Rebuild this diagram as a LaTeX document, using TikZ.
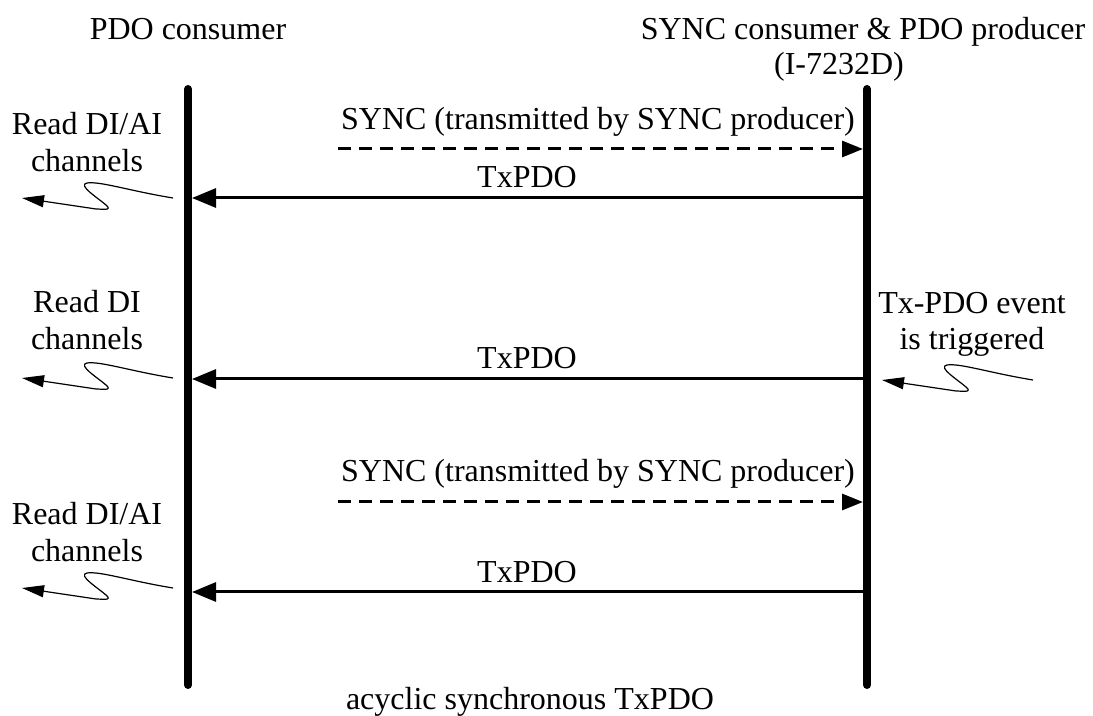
\documentclass[tikz,border=0pt]{standalone}
\usepackage{fontspec}
\setmainfont{Liberation Serif}
\usetikzlibrary{arrows.meta}
\begin{document}
\begin{tikzpicture}[x=0.5pt,y=-0.5pt,
  lbl/.style={anchor=base,inner sep=0pt,font=\fontsize{16}{19}\selectfont},
  life/.style={line width=4pt,line cap=round},
  msg/.style={line width=1.5pt,-{Triangle[length=12pt,width=9.5pt]},shorten >=2pt},
  syncmsg/.style={line width=1.5pt,dash pattern=on 6.5pt off 4pt,-{Triangle[length=10.5pt,width=8pt]},shorten >=2pt},
  wave/.style={line width=0.6pt,-{Triangle[length=11pt,width=6pt]}}]

\useasboundingbox (0,0) rectangle (1093,716);

% lifelines
\coordinate (Ltop) at (188,89);
\coordinate (Lbot) at (188,685);
\coordinate (Rtop) at (867,89);
\coordinate (Rbot) at (867,685);
\draw[life] (Ltop) -- (Lbot);
\draw[life] (Rtop) -- (Rbot);

% titles
\node[lbl] (t1) at (188,40) {PDO consumer};
\node[lbl] (t2) at (863,40) {SYNC consumer \& PDO producer};
\node[lbl] (t3) at (839,75) {(I-7232D)};
\node[lbl] (cap) at (530,709) {acyclic synchronous TxPDO};

% section 1
\coordinate (s1a) at (338,149);
\coordinate (s1b) at (867,149);
\draw[syncmsg] (s1a) -- (s1b);
\node[lbl] (s1l) at (598,130) {SYNC (transmitted by SYNC producer)};
\coordinate (p1a) at (867,198);
\coordinate (p1b) at (188,198);
\draw[msg] (p1a) -- (p1b);
\node[lbl] (p1l) at (527,188) {TxPDO};
\node[lbl] (r1a) at (87,135) {Read DI/AI};
\node[lbl] (r1b) at (87,172) {channels};

% section 2
\coordinate (p2a) at (867,379);
\coordinate (p2b) at (188,379);
\draw[msg] (p2a) -- (p2b);
\node[lbl] (p2l) at (527,369) {TxPDO};
\node[lbl] (r2a) at (87,313) {Read DI};
\node[lbl] (r2b) at (87,350) {channels};
\node[lbl] (e2a) at (972,314) {Tx-PDO event};
\node[lbl] (e2b) at (972,350) {is triggered};

% section 3
\coordinate (s3a) at (338,502);
\coordinate (s3b) at (867,502);
\draw[syncmsg] (s3a) -- (s3b);
\node[lbl] (s3l) at (598,482) {SYNC (transmitted by SYNC producer)};
\coordinate (p3a) at (867,592);
\coordinate (p3b) at (188,592);
\draw[msg] (p3a) -- (p3b);
\node[lbl] (p3l) at (527,582) {TxPDO};
\node[lbl] (r3a) at (87,524) {Read DI/AI};
\node[lbl] (r3b) at (87,561) {channels};

% wavy arrows
\begin{scope}[shift={(0,198)}]
  \coordinate (w1s) at (173,0); \coordinate (w1e) at (22,0);
  \draw[wave] (w1s) .. controls (130,-7) and (100,-17) .. (87,-15)
    .. controls (77,-13) and (98,0) .. (106,7)
    .. controls (113,13) and (102,11) .. (96,11) -- (w1e);
\end{scope}
\begin{scope}[shift={(0,378)}]
  \coordinate (w2s) at (173,0); \coordinate (w2e) at (22,0);
  \draw[wave] (w2s) .. controls (130,-7) and (100,-17) .. (87,-15)
    .. controls (77,-13) and (98,0) .. (106,7)
    .. controls (113,13) and (102,11) .. (96,11) -- (w2e);
\end{scope}
\begin{scope}[shift={(0,588)}]
  \coordinate (w3s) at (173,0); \coordinate (w3e) at (22,0);
  \draw[wave] (w3s) .. controls (130,-7) and (100,-17) .. (87,-15)
    .. controls (77,-13) and (98,0) .. (106,7)
    .. controls (113,13) and (102,11) .. (96,11) -- (w3e);
\end{scope}
\begin{scope}[shift={(860,380)}]
  \coordinate (w4s) at (173,0); \coordinate (w4e) at (22,0);
  \draw[wave] (w4s) .. controls (130,-7) and (100,-17) .. (87,-15)
    .. controls (77,-13) and (98,0) .. (106,7)
    .. controls (113,13) and (102,11) .. (96,11) -- (w4e);
\end{scope}
\end{tikzpicture}
\end{document}
